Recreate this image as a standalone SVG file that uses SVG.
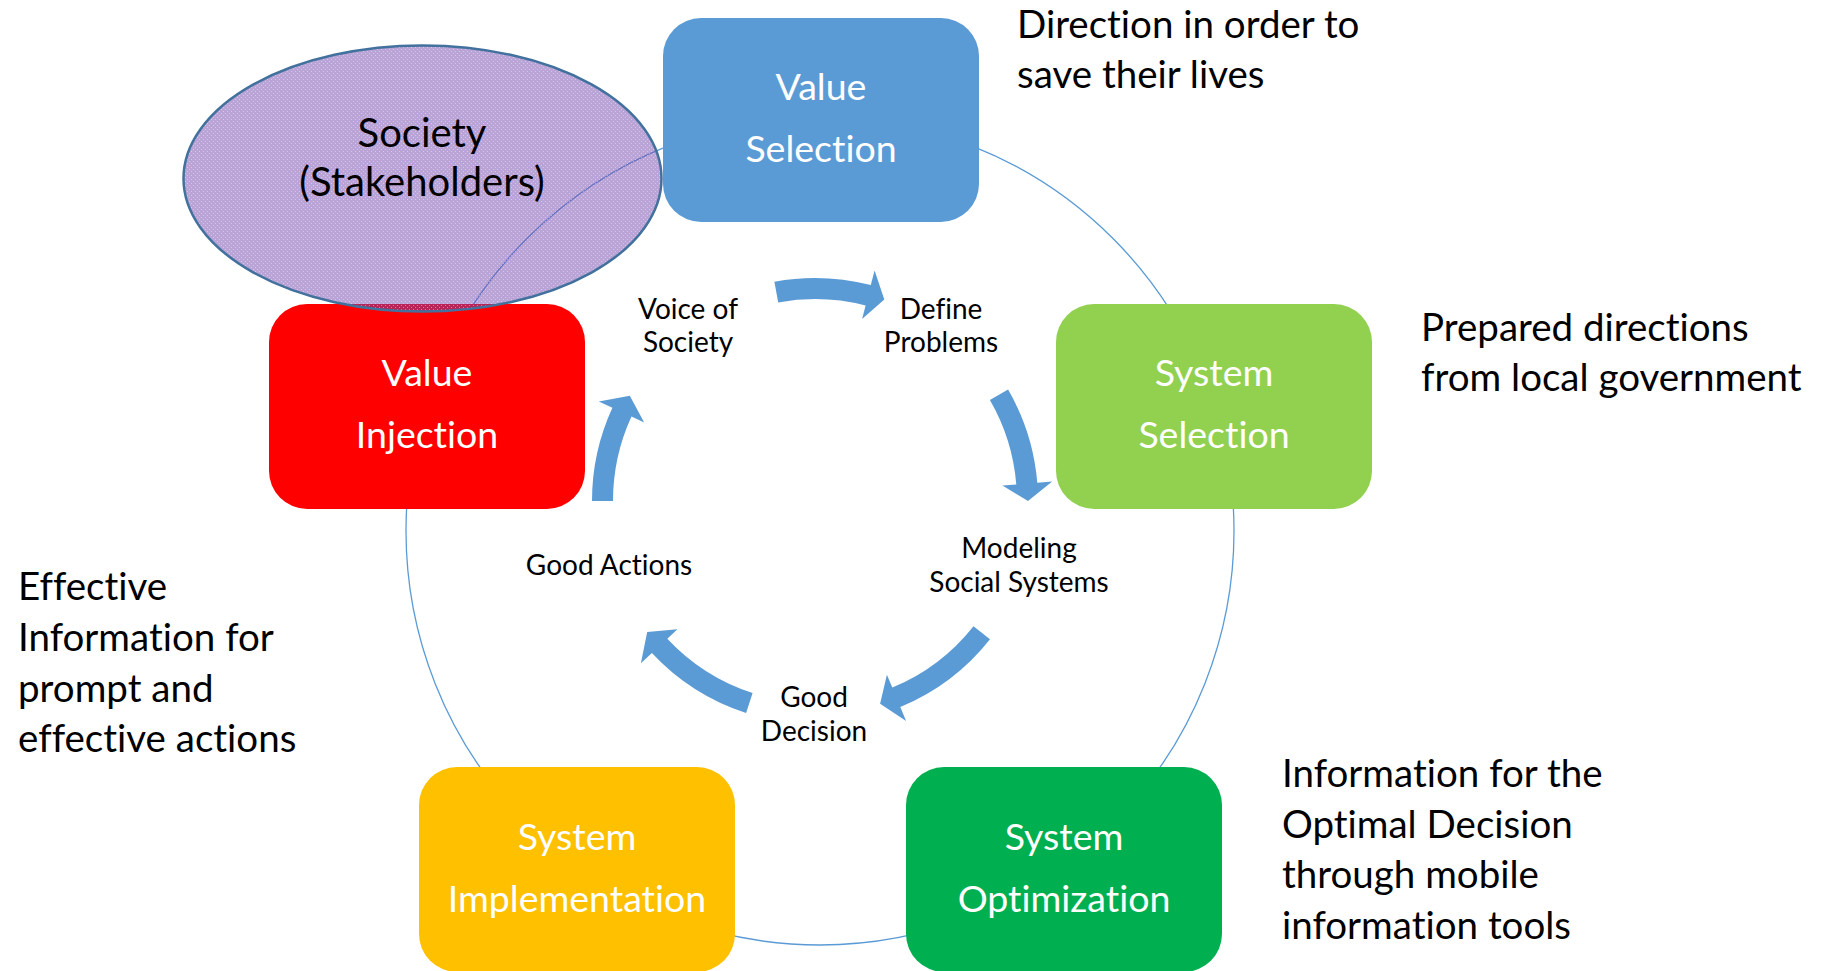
<svg xmlns="http://www.w3.org/2000/svg" width="1834" height="971" viewBox="0 0 1834 971">
<style>
text{font-variant-ligatures:none;font-feature-settings:"liga" 0,"clig" 0}
.box{stroke:none}
.bt{font-family:Lato,"Open Sans",sans-serif;font-size:37.5px;fill:#fff;text-anchor:middle}
.lbl{font-family:Lato,"Open Sans",sans-serif;font-size:28px;fill:#000;text-anchor:middle}
.ann{font-family:Lato,"Open Sans",sans-serif;font-size:38.5px;fill:#000}
.et{font-family:Lato,"Open Sans",sans-serif;font-size:40px;fill:#000;text-anchor:middle}
.arr{fill:#5B9BD5}
.con{fill:none;stroke:#5B9BD5;stroke-width:1.3}
</style>
<defs>
<pattern id="dots" width="4" height="4" patternUnits="userSpaceOnUse">
<rect width="4" height="4" fill="#7348B0" fill-opacity="0.5"/>
<rect x="1" y="1" width="1" height="1" fill="#fff" fill-opacity="0.4"/>
<rect x="3" y="3" width="1" height="1" fill="#fff" fill-opacity="0.4"/>
</pattern>
</defs>
<rect width="1834" height="971" fill="#fff"/>
<g id="connectors">
<circle class="con" cx="820" cy="531" r="414"/>
</g>
<g id="value-selection">
<rect class="box" x="663" y="18" width="316" height="204" rx="38" fill="#5B9BD5"/>
<text class="bt" x="821" y="100">Value</text>
<text class="bt" x="821" y="162">Selection</text>
</g>
<g id="value-injection">
<rect class="box" x="269" y="304" width="316" height="205" rx="38" fill="#FF0000"/>
<text class="bt" x="427" y="386">Value</text>
<text class="bt" x="427" y="448">Injection</text>
</g>
<g id="system-selection">
<rect class="box" x="1056" y="304" width="316" height="205" rx="38" fill="#92D050"/>
<text class="bt" x="1214" y="386">System</text>
<text class="bt" x="1214" y="448">Selection</text>
</g>
<g id="system-implementation">
<rect class="box" x="419" y="767" width="316" height="205" rx="38" fill="#FFC000"/>
<text class="bt" x="577" y="850">System</text>
<text class="bt" x="577" y="912">Implementation</text>
</g>
<g id="system-optimization">
<rect class="box" x="906" y="767" width="316" height="205" rx="38" fill="#00B050"/>
<text class="bt" x="1064" y="850">System</text>
<text class="bt" x="1064" y="912">Optimization</text>
</g>
<g id="society">
<ellipse cx="422.5" cy="178.5" rx="239" ry="133" fill="url(#dots)" stroke="#41719C" stroke-width="2.5"/>
<text class="et" x="422" y="147">Society</text>
<text class="et" x="422" y="196">(Stakeholders)</text>
</g>
<g id="cycle-arrows">
<path class="arr" d="M774.4,281.7 A223,223 0 0 1 870.8,285.1 L874.6,270.6 L884.3,299.6 L862.1,319 L865.6,305.4 A202,202 0 0 0 778.2,302.4 Z"/>
<path class="arr" d="M1008.1,389.5 A223,223 0 0 1 1037.3,482.7 L1052.2,481.5 L1028,501 L1002.4,485.6 L1016.3,484.4 A202,202 0 0 0 989.9,400 Z"/>
<path class="arr" d="M990,639.2 A223,223 0 0 1 900.3,707 L906.1,720.9 L880.1,703.8 L886.9,674.7 L892.3,687.6 A202,202 0 0 0 973.5,626.2 Z"/>
<path class="arr" d="M746.1,713.1 A223,223 0 0 1 651.9,653.1 L640.9,663.3 L647.2,632.1 L677.5,629.2 L667.3,638.8 A202,202 0 0 0 752.6,693.1 Z"/>
<path class="arr" d="M592,501 A223,223 0 0 1 612.4,407.8 L598.8,401.5 L629.8,395.8 L644.2,422.4 L631.5,416.6 A202,202 0 0 0 613,501 Z"/>
</g>
<g id="cycle-labels">
<text class="lbl" x="688" y="319">Voice of</text>
<text class="lbl" x="688" y="352">Society</text>
<text class="lbl" x="941" y="319">Define</text>
<text class="lbl" x="941" y="352">Problems</text>
<text class="lbl" x="1019" y="558">Modeling</text>
<text class="lbl" x="1019" y="592">Social Systems</text>
<text class="lbl" x="814" y="707">Good</text>
<text class="lbl" x="814" y="741">Decision</text>
<text class="lbl" x="609" y="575">Good Actions</text>
</g>
<g id="annotations">
<text class="ann" x="1017" y="38">Direction in order to</text>
<text class="ann" x="1017" y="88">save their lives</text>
<text class="ann" x="1421" y="341">Prepared directions</text>
<text class="ann" x="1421" y="391">from local government</text>
<text class="ann" x="18" y="600">Effective</text>
<text class="ann" x="18" y="651">Information for</text>
<text class="ann" x="18" y="702">prompt and</text>
<text class="ann" x="18" y="752">effective actions</text>
<text class="ann" x="1282" y="787">Information for the</text>
<text class="ann" x="1282" y="838">Optimal Decision</text>
<text class="ann" x="1282" y="888">through mobile</text>
<text class="ann" x="1282" y="939">information tools</text>
</g>
</svg>
